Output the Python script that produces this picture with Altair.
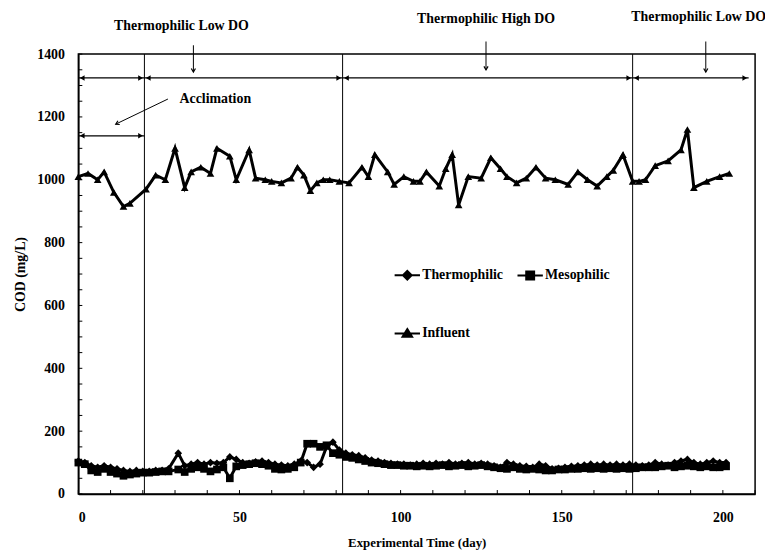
import altair as alt
import pandas as pd

# ---------------- data ----------------
influent_day = [0, 3, 6, 8, 11, 14, 16, 21, 24, 27,
                30, 33, 35, 38, 41, 43, 47, 49, 53, 55,
                58, 60, 63, 66, 68, 70, 72, 74, 76, 78,
                81, 84, 88, 90, 92, 96, 98, 101, 104, 106,
                108, 112, 114, 116, 118, 121, 125, 128, 131, 133,
                136, 139, 142, 145, 148, 152, 155, 158, 161, 164,
                166, 169, 172, 174, 176, 179, 183, 187, 189, 191,
                195, 199, 202]
influent_cod = [1010, 1020, 1000, 1025, 960, 915, 925, 970, 1015, 1000,
                1100, 975, 1025, 1040, 1020, 1100, 1075, 1000, 1095, 1005,
                1000, 995, 990, 1005, 1040, 1015, 965, 990, 1000, 1000,
                995, 990, 1040, 1010, 1080, 1025, 985, 1010, 995, 995,
                1025, 980, 1035, 1080, 920, 1010, 1005, 1070, 1035, 1010,
                990, 1005, 1040, 1005, 1000, 985, 1025, 1000, 980, 1010,
                1030, 1080, 995, 995, 1000, 1045, 1060, 1095, 1160, 975,
                995, 1010, 1020]

reactor_day = [0, 2, 4, 6, 8, 10, 12, 14, 16, 18, 20, 22, 24, 26, 28,
               31, 33, 35, 37, 39, 41, 43, 45, 47, 49,
               51, 53, 55, 57, 59, 61, 63, 65, 67, 69,
               71, 73, 75, 77, 79, 81, 83, 85, 87, 89,
               91, 93, 95, 97, 99, 101, 103, 105, 107, 109,
               111, 113, 115, 117, 119, 121, 123, 125, 127, 129,
               131, 133, 135, 137, 139, 141, 143, 145, 147, 149,
               151, 153, 155, 157, 159, 161, 163, 165, 167, 169,
               171, 173, 175, 177, 179, 181, 183, 185, 187, 189,
               191, 193, 195, 197, 199, 201]
thermo_cod = [105, 100, 90, 85, 90, 85, 80, 75, 72, 75, 72, 72, 75, 75, 80,
              130, 90, 95, 100, 95, 100, 98, 100, 118, 110,
              100, 98, 102, 105, 100, 95, 92, 90, 95, 105,
              100, 85, 95, 150, 165, 140, 130, 125, 122, 115,
              108, 105, 100, 98, 95, 95, 92, 95, 98, 95,
              98, 95, 100, 95, 98, 100, 95, 98, 95, 90,
              85, 100, 95, 90, 88, 85, 95, 90, 80, 82,
              85, 88, 90, 92, 95, 92, 95, 92, 95, 92,
              95, 92, 90, 92, 100, 95, 92, 100, 105, 110,
              100, 95, 100, 105, 100, 100]
meso_cod = [100, 95, 75, 70, 80, 70, 65, 58, 62, 65, 68, 68, 70, 72, 72,
            78, 70, 80, 85, 80, 72, 78, 85, 50, 88,
            92, 95, 98, 95, 90, 80, 78, 80, 85, 100,
            160, 160, 150, 155, 130, 125, 118, 115, 110, 105,
            100, 98, 95, 92, 92, 90, 90, 88, 90, 88,
            90, 92, 88, 90, 92, 88, 90, 92, 88, 85,
            82, 80, 85, 80, 78, 80, 78, 75, 75, 78,
            78, 80, 80, 82, 80, 82, 80, 82, 80, 82,
            80, 82, 85, 85, 85, 88, 90, 85, 88, 90,
            88, 85, 88, 85, 85, 88]

series_names = ["Thermophilic", "Mesophilic", "Influent"]

# phase annotations
phase_boundary_day = [20.5, 82, 172]
span_start_day = [0, 20.5, 82, 172]
span_end_day = [20.5, 82, 172, 208]
span_cod = 1324
phase_label_text = ["Thermophilic Low DO", "Thermophilic High DO", "Thermophilic Low DO"]
phase_label_day = [32, 126.5, 192.5]
phase_label_cod = [1490, 1510, 1518]
phase_arrow_day = [35.7, 126.5, 194.7]
phase_arrow_top = [1428, 1440, 1440]
phase_arrow_tip = [1343, 1350, 1343]
accl_start_day, accl_end_day, accl_cod = 0, 20.5, 1140
accl_text, accl_text_day, accl_text_cod = "Acclimation", 42.5, 1258
pointer_from = (27.8, 1257)
pointer_to = (11.6, 1177)

y_label_values = [0, 200, 400, 600, 800, 1000, 1200, 1400]
y_tick_values = list(range(0, 1401, 50))
x_label_values = [0, 50, 100, 150, 200]
x_tick_values = list(range(0, 211, 10))

# ---------------- build tables ----------------
rows = []
for d, v in zip(reactor_day, thermo_cod):
    rows.append({"day": d, "cod": v, "series": "Thermophilic"})
for d, v in zip(reactor_day, meso_cod):
    rows.append({"day": d, "cod": v, "series": "Mesophilic"})
for d, v in zip(influent_day, influent_cod):
    rows.append({"day": d, "cod": v, "series": "Influent"})
data = pd.DataFrame(rows)

FONT = "'Liberation Serif', 'Times New Roman', serif"
FS = 14
W, H = 683, 444
x_scale = alt.Scale(domain=[0, 210], nice=False)
y_scale = alt.Scale(domain=[0, 1400], nice=False)

x_enc = alt.X("day:Q", scale=x_scale,
              axis=alt.Axis(values=x_label_values, title="Experimental Time (day)",
                            format="d", ticks=False, labelPadding=17, titlePadding=12,
                            titleFontSize=13, grid=False))
y_enc = alt.Y("cod:Q", scale=y_scale,
              axis=alt.Axis(values=y_label_values, title="COD (mg/L)", format="d",
                            ticks=False, labelPadding=14, titlePadding=9, grid=False))

lines = alt.Chart(data).mark_line(color="black", strokeWidth=3).encode(
    x=x_enc, y=y_enc, detail="series:N", order="day:Q"
)

points = alt.Chart(data).mark_point(filled=True, color="black", opacity=1).encode(
    x="day:Q", y="cod:Q",
    shape=alt.Shape("series:N", scale=alt.Scale(domain=series_names,
                                                range=["diamond", "square", "triangle-up"]),
                    legend=None),
    size=alt.Size("series:N", scale=alt.Scale(domain=series_names, range=[60, 60, 100]),
                  legend=None),
)

# legend glyphs: a short line through a (stroke-filled) marker
legend_paths = [
    "M-3.2,0H3.2M0,-1.1L1.1,0L0,1.1L-1.1,0ZM0,-0.5L0.5,0L0,0.5L-0.5,0Z",
    "M-3.2,0H3.2M-1,-1H1V1H-1ZM-0.5,-0.5H0.5V0.5H-0.5Z",
    "M-3.2,0H3.2M0,-1.1L1.2,0.8H-1.2ZM0,-0.4L0.5,0.4H-0.5Z",
]
legend_layer = alt.Chart(data).mark_point(
    filled=False, color="black", strokeWidth=2, opacity=1
).encode(
    x="day:Q", y="cod:Q",
    shape=alt.Shape("series:N",
                    scale=alt.Scale(domain=series_names, range=legend_paths),
                    legend=alt.Legend(orient="none", direction="horizontal",
                                      legendX=325, legendY=216, columns=2,
                                      columnPadding=10, rowPadding=41, title=None,
                                      padding=0, labelFont=FONT, labelFontSize=FS,
                                      labelFontWeight="bold", labelColor="black",
                                      labelOffset=8, symbolSize=64,
                                      symbolStrokeWidth=2, symbolStrokeColor="black",
                                      symbolOpacity=1)),
).transform_filter("false")

# vertical phase lines
phase_lines = alt.Chart(pd.DataFrame({"day": phase_boundary_day})).mark_rule(
    color="black", strokeWidth=1).encode(x="day:Q")

# horizontal double arrows
spans = pd.DataFrame({"day": span_start_day + [accl_start_day],
                      "day2": span_end_day + [accl_end_day],
                      "cod": [span_cod] * len(span_start_day) + [accl_cod]})
span_rules = alt.Chart(spans).mark_rule(color="black", strokeWidth=1.2).encode(
    x="day:Q", x2="day2:Q", y="cod:Q")
left_heads = alt.Chart(spans.assign(hd=spans["day"] + 1.2)).mark_point(
    shape="triangle-left", filled=True, color="black", size=30, opacity=1).encode(
    x="hd:Q", y="cod:Q")
right_heads = alt.Chart(spans.assign(hd=spans["day2"] - 1.2)).mark_point(
    shape="triangle-right", filled=True, color="black", size=30, opacity=1).encode(
    x="hd:Q", y="cod:Q")

# down arrows beneath phase labels
down = pd.DataFrame({"day": phase_arrow_day, "cod": phase_arrow_top, "cod2": phase_arrow_tip})
down_rules = alt.Chart(down).mark_rule(color="black", strokeWidth=1).encode(
    x="day:Q", y="cod:Q", y2="cod2:Q")
vshape = "M-0.6,-1L0,0L0.6,-1"
down_heads = alt.Chart(down).mark_point(shape=vshape, filled=False, color="black",
                                        strokeWidth=1.2, size=49, opacity=1).encode(
    x="day:Q", y="cod2:Q")

# acclimation pointer
ptr = pd.DataFrame({"day": [pointer_from[0]], "cod": [pointer_from[1]],
                    "day2": [pointer_to[0]], "cod2": [pointer_to[1]]})
ptr_rule = alt.Chart(ptr).mark_rule(color="black", strokeWidth=1).encode(
    x="day:Q", y="cod:Q", x2="day2:Q", y2="cod2:Q")
ptr_head = alt.Chart(ptr).mark_point(shape=vshape, filled=False, color="black",
                                     strokeWidth=1.2, size=49, angle=64, opacity=1).encode(
    x="day2:Q", y="cod2:Q")

# texts
labels = pd.DataFrame({"day": phase_label_day + [accl_text_day],
                       "cod": phase_label_cod + [accl_text_cod],
                       "txt": phase_label_text + [accl_text]})
texts = alt.Chart(labels).mark_text(font=FONT, fontSize=FS, fontWeight="bold",
                                    color="black", baseline="middle").encode(
    x="day:Q", y="cod:Q", text="txt:N")

# inward ticks
y_ticks = alt.Chart(pd.DataFrame({"cod": y_tick_values})).mark_rule(
    color="black", strokeWidth=1).encode(y="cod:Q", x=alt.value(0), x2=alt.value(4))
x_ticks = alt.Chart(pd.DataFrame({"day": x_tick_values})).mark_rule(
    color="black", strokeWidth=1).encode(x="day:Q", y=alt.value(H), y2=alt.value(H - 4))

chart = alt.layer(
    lines, phase_lines, span_rules, left_heads, right_heads, down_rules, down_heads,
    ptr_rule, ptr_head, texts, y_ticks, x_ticks, points, legend_layer
).resolve_scale(shape="independent", size="independent").properties(
    width=W, height=H,
    autosize=alt.AutoSizeParams(type="none"),
    padding={"left": 71, "top": 44, "right": 10, "bottom": 54},
).configure_view(
    stroke="black", strokeWidth=1.5
).configure_axis(
    labelFont=FONT, labelFontSize=FS, labelFontWeight="bold", labelColor="black",
    titleFont=FONT, titleFontSize=FS, titleFontWeight="bold", titleColor="black",
    domainColor="black", domainWidth=1.5
)

chart.save("out.html", embed_options={"renderer": "svg", "actions": False})
